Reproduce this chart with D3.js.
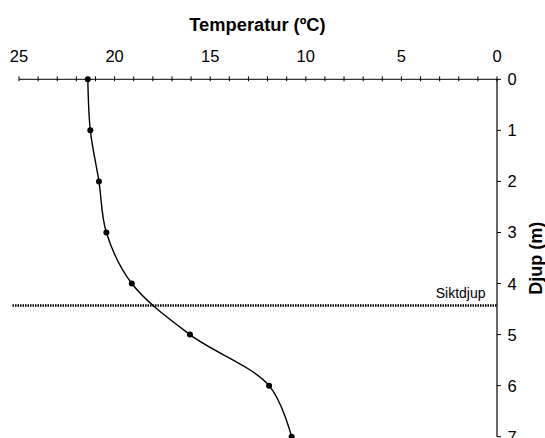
<!DOCTYPE html>
<html><head><meta charset="utf-8">
<script src="https://cdn.jsdelivr.net/npm/d3@7"></script>
<style>body{margin:0;background:#fff}svg{display:block}text{font-family:"Liberation Sans",Arial,sans-serif}</style>
</head><body><svg id="c" width="545" height="438"></svg>
<script>
const depths = [0, 1, 2, 3, 4, 5, 6, 7];
const temps = [21.4, 21.27, 20.82, 20.43, 19.1, 16.06, 11.92, 10.74];
const xTicks = [25, 20, 15, 10, 5, 0];
const yTicks = [0, 1, 2, 3, 4, 5, 6, 7];
const siktdjup = 4.43;
const xTitle = "Temperatur (ºC)";
const yTitle = "Djup (m)";
const siktLabel = "Siktdjup";

const svg = d3.select("#c");
const x = d3.scaleLinear().domain([25, 0]).range([19, 497]);
const y = d3.scaleLinear().domain([0, 7]).range([79.3, 436.7]);

// x axis (top), crossing ticks
const xa = svg.append("g");
xa.append("line").attr("x1", x(25)).attr("x2", x(0)).attr("y1", y(0)).attr("y2", y(0)).attr("stroke", "#000").attr("stroke-width", 1);
xa.selectAll("line.t").data(d3.range(0, 26)).join("line").attr("class", "t")
  .attr("x1", d => x(d)).attr("x2", d => x(d)).attr("y1", y(0) - 3).attr("y2", y(0) + 2).attr("stroke", "#000").attr("stroke-width", 1);
xa.selectAll("text").data(xTicks).join("text")
  .attr("x", d => x(d)).attr("y", 62.3).attr("text-anchor", "middle").attr("font-size", 16.5).text(d => d);

// y axis (right)
const ya = svg.append("g");
ya.append("line").attr("x1", x(0)).attr("x2", x(0)).attr("y1", y(0)).attr("y2", y(7)).attr("stroke", "#000").attr("stroke-width", 1.2);
ya.selectAll("line.t").data(yTicks).join("line").attr("class", "t")
  .attr("x1", x(0)).attr("x2", x(0) + 4).attr("y1", d => y(d)).attr("y2", d => y(d)).attr("stroke", "#000");
ya.selectAll("text").data(yTicks).join("text")
  .attr("x", 512).attr("y", d => y(d) + 6).attr("text-anchor", "middle").attr("font-size", 16.5).text(d => d);

// titles
svg.append("text").attr("x", 257.5).attr("y", 30.5).attr("text-anchor", "middle").attr("font-size", 18.3).attr("font-weight", "bold").text(xTitle);
svg.append("text").attr("transform", "translate(541.5,258.3) rotate(-90)").attr("text-anchor", "middle").attr("font-size", 18).attr("font-weight", "bold").text(yTitle);

// siktdjup line
svg.append("line").attr("x1", 12.5).attr("x2", x(0)).attr("y1", y(siktdjup)).attr("y2", y(siktdjup))
  .attr("stroke", "#000").attr("stroke-width", 2.5).attr("stroke-dasharray", "1.5,1");
svg.append("text").attr("x", 485.5).attr("y", 297.5).attr("text-anchor", "end").attr("font-size", 14).text(siktLabel);

// curve
const data = depths.map((d, i) => ({d, t: temps[i]}));
const line = d3.line().x(p => x(p.t)).y(p => y(p.d)).curve(d3.curveCatmullRom.alpha(0.5));
svg.append("path").datum(data).attr("d", line).attr("fill", "none").attr("stroke", "#000").attr("stroke-width", 1.4);
svg.selectAll("circle").data(data).join("circle").attr("cx", p => x(p.t)).attr("cy", p => y(p.d)).attr("r", 3).attr("fill", "#000");
</script></body></html>
